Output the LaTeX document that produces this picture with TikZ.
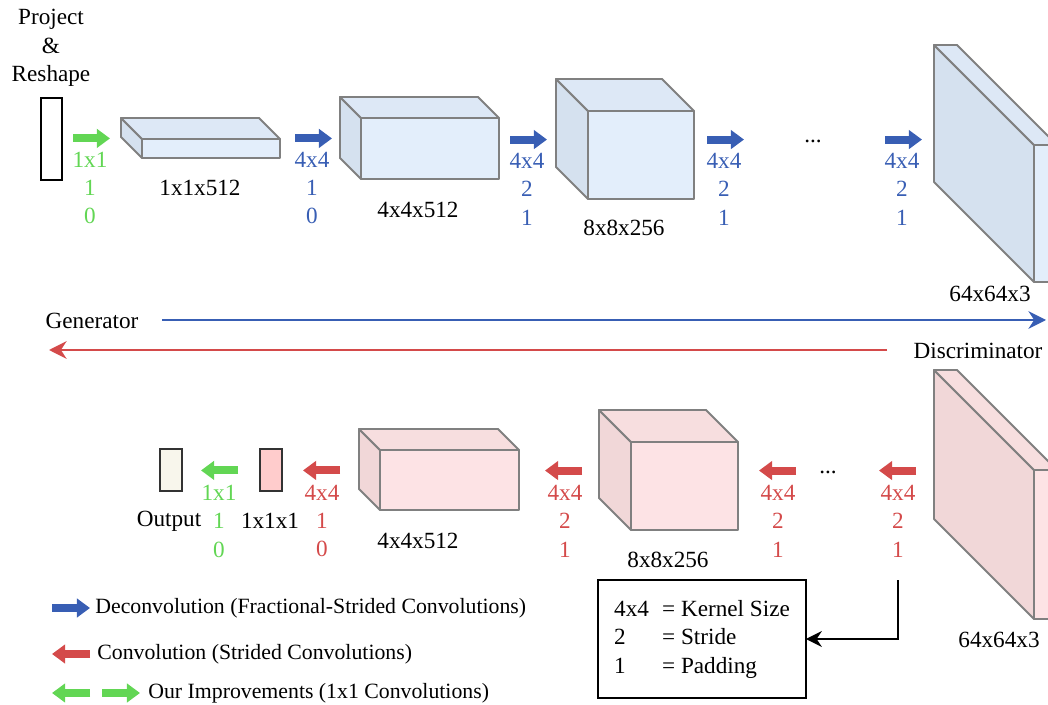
\documentclass[tikz,border=0pt]{standalone}
\usepackage{fontspec}
\setmainfont{Liberation Serif}
\usetikzlibrary{arrows.meta,positioning}

\definecolor{gblue}{RGB}{56,94,180}
\definecolor{dred}{RGB}{212,74,74}
\definecolor{lgreen}{RGB}{98,214,84}
\definecolor{bfront}{RGB}{227,238,251}
\definecolor{bside}{RGB}{213,225,239}
\definecolor{btop}{RGB}{221,232,246}
\definecolor{rfront}{RGB}{253,227,229}
\definecolor{rside}{RGB}{241,215,216}
\definecolor{rtop}{RGB}{247,222,223}
\definecolor{edgegray}{RGB}{128,128,128}
\definecolor{cream}{RGB}{248,246,236}
\definecolor{lpink}{RGB}{255,204,204}

% layer block: name, front centre, width, height, depth, colour prefix
\newcommand{\cuboid}[6]{%
  \node[face, fill=#6front, minimum width=#3*0.02cm, minimum height=#4*0.02cm] (#1) at #2 {};
  \draw[face, fill=#6side] (#1.north west) -- ++(-#5,-#5) -- ++(0,#4) -- (#1.south west) -- cycle;
  \draw[face, fill=#6top] (#1.north west) -- ++(-#5,-#5) -- ++(#3,0) -- (#1.north east) -- cycle;
}

\begin{document}
\begin{tikzpicture}[x=0.02cm, y=-0.02cm,
    font=\fontsize{13.2}{16.2}\selectfont,
    face/.style={draw=edgegray, line width=1.1pt, line join=round, inner sep=0pt, outer sep=0pt},
    blk/.style={line width=4.6pt, -{Triangle[length=7.5pt,width=10.5pt]}},
    flow/.style={line width=1.4pt, -{Stealth[length=10pt,width=10pt]}},
    lab/.style={align=center, inner sep=0pt},
    keytext/.style={anchor=west, inner sep=0pt, font=\fontsize{12.4}{15}\selectfont},
    slot/.style={draw=black!80, line width=1.3pt, inner sep=0pt, outer sep=0pt,
      minimum width=0.43cm, minimum height=0.84cm}]
    \useasboundingbox (0,0) rectangle (1048,705);
    \clip (0,0) rectangle (1048,705);

    % generator row
    \node[lab] (proj) at (51,48) {Project\\\&\\Reshape};
    \node[slot, draw=black, minimum height=1.64cm] (noise) at (51.5,139) {};

    \node[lab, lgreen] (up0) at (90,188) {1x1\\1\\0};
    \node[lab, gblue] (up1) at (312,188) {4x4\\1\\0};
    \node[lab, gblue] (up2) at (527,189) {4x4\\2\\1};
    \node[lab, gblue] (up3) at (724,189) {4x4\\2\\1};
    \node[lab, gblue] (up4) at (902,189) {4x4\\2\\1};

    \draw[blk, lgreen] ([shift={(-17,-13)}]up0.north) -- ++(37,0);
    \draw[blk, gblue] ([shift={(-17,-13)}]up1.north) -- ++(37,0);
    \draw[blk, gblue] ([shift={(-17,-13)}]up2.north) -- ++(37,0);
    \draw[blk, gblue] ([shift={(-17,-13)}]up3.north) -- ++(37,0);
    \draw[blk, gblue] ([shift={(-17,-13)}]up4.north) -- ++(37,0);

    \cuboid{g1}{(211,148.5)}{138}{19}{21}{b}
    \cuboid{g2}{(430,148.5)}{138}{61}{21}{b}
    \cuboid{g3}{(641,155)}{106}{88}{32}{b}
    \cuboid{g4}{(1045.5,213.5)}{23}{137}{100}{b}

    \node (g1t) at (200,188) {1x1x512};
    \node (g2t) at (418,210) {4x4x512};
    \node (g3t) at (624,228) {8x8x256};
    \node (g4t) at (990,294) {64x64x3};
    \node (gdots) at (813,141) {...};

    % direction lines
    \node (gen) at (92,321) {Generator};
    \coordinate (genfrom) at (162,320);
    \coordinate (gento) at (1046,320);
    \draw[flow, gblue] (genfrom) -- (gento);

    \node (dis) at (978,351) {Discriminator};
    \coordinate (disfrom) at (887,350);
    \coordinate (disto) at (49,350);
    \draw[flow, dred] (disfrom) -- (disto);

    % discriminator row
    \node[slot, fill=cream] (out) at (171,470) {};
    \node[slot, fill=lpink] (score) at (271,470) {};
    \node (outt) at (169,521) {Output};
    \node (scoret) at (270,521) {1x1x1};

    \node[lab, lgreen] (dn0) at (219,521) {1x1\\1\\0};
    \node[lab, dred] (dn1) at (322,521) {4x4\\1\\0};
    \node[lab, dred] (dn2) at (565,521) {4x4\\2\\1};
    \node[lab, dred] (dn3) at (778,521) {4x4\\2\\1};
    \node[lab, dred] (dn4) at (898,521) {4x4\\2\\1};

    \draw[blk, lgreen] ([shift={(19,-14)}]dn0.north) -- ++(-37,0);
    \draw[blk, dred] ([shift={(18,-14)}]dn1.north) -- ++(-37,0);
    \draw[blk, dred] ([shift={(17,-14)}]dn2.north) -- ++(-37,0);
    \draw[blk, dred] ([shift={(18,-14)}]dn3.north) -- ++(-37,0);
    \draw[blk, dred] ([shift={(18,-14)}]dn4.north) -- ++(-37,0);

    \cuboid{d1}{(449.5,480)}{139}{60}{21}{r}
    \cuboid{d2}{(684.5,486)}{107}{88}{32}{r}
    \cuboid{d3}{(1045.5,544.5)}{23}{149}{100}{r}

    \node (d1t) at (418,541) {4x4x512};
    \node (d2t) at (668,560) {8x8x256};
    \node (d3t) at (999,640) {64x64x3};
    \node (ddots) at (828,472) {...};

    % key box
    \node[draw=black, line width=1.2pt, outer sep=0pt, minimum width=4.16cm, minimum height=2.36cm] (key) at (702,639)
      {\begin{tabular}{@{}l@{\hspace{7.5pt}}l@{}}4x4 & = Kernel Size\\ 2 & = Stride\\ 1 & = Padding\end{tabular}};
    \coordinate (keyfrom) at (898,580);
    \draw[line width=1.1pt, -{Stealth[length=9pt,width=9pt]}] (keyfrom) |- (key.east);

    % legend
    \node[keytext] (kdec) at (95,608) {Deconvolution (Fractional-Strided Convolutions)};
    \node[keytext] (kconv) at (97,654) {Convolution (Strided Convolutions)};
    \node[keytext] (kimp) at (148,693) {Our Improvements (1x1 Convolutions)};
    \draw[blk, gblue] ([xshift=-0.86cm]kdec.west) -- ++(38,0);
    \draw[blk, dred] ([xshift=-0.14cm]kconv.west) -- ++(-38,0);
    \draw[blk, lgreen] ([xshift=-1.16cm]kimp.west) -- ++(-38,0);
    \draw[blk, lgreen] ([xshift=-0.92cm]kimp.west) -- ++(38,0);
\end{tikzpicture}
\end{document}
